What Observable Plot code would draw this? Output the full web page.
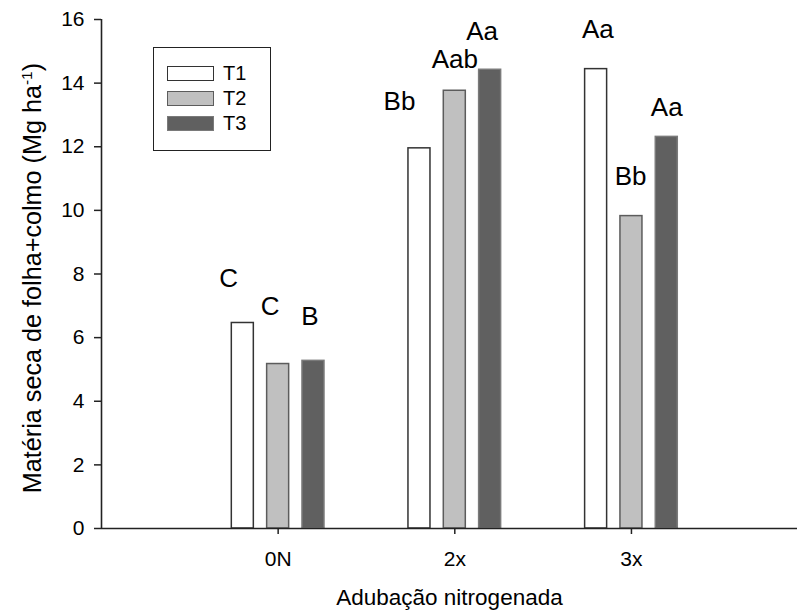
<!DOCTYPE html>
<html>
<head>
<meta charset="utf-8">
<script src="https://cdn.jsdelivr.net/npm/d3@7"></script>
<script src="https://cdn.jsdelivr.net/npm/@observablehq/plot@0.6"></script>
<style>
  html, body { margin: 0; padding: 0; background: #fff; }
  #wrap { position: relative; width: 797px; height: 615px; font-family: "Liberation Sans", Arial, sans-serif; }
  #legend { position: absolute; box-sizing: border-box; border: 1.5px solid #222; background: #fff; }
  .sw { position: absolute; box-sizing: border-box; border-width: 1.5px; border-style: solid; }
  .lt { position: absolute; font-size: 20px; line-height: 20px; color: #000; }
</style>
</head>
<body>
<div id="wrap"></div>
<script>
// ---- data ----
const categories = ["0N", "2x", "3x"];
const series = ["T1", "T2", "T3"];
const valuesT1 = [6.46, 11.95, 14.44];
const valuesT2 = [5.17, 13.76, 9.82];
const valuesT3 = [5.27, 14.42, 12.31];
const lettersT1 = ["C", "Bb", "Aa"];
const lettersT2 = ["C", "Aab", "Bb"];
const lettersT3 = ["B", "Aa", "Aa"];
// where the letters sit, in axis units (height, and shift from the bar centre)
const letterYT1 = [7.59, 13.15, 15.41];
const letterYT2 = [6.71, 14.48, 10.79];
const letterYT3 = [6.39, 15.35, 12.96];
const letterShiftT1 = [-0.08, -0.113, 0.01];
const letterShiftT2 = [-0.045, 0, -0.005];
const letterShiftT3 = [-0.02, -0.045, 0];
const yTicks = [0, 2, 4, 6, 8, 10, 12, 14, 16];
const fills = ["#ffffff", "#c0c0c0", "#606060"];
const strokes = ["#333333", "#5c5c5c", "#7a7a7a"];

const values = [valuesT1, valuesT2, valuesT3];
const letters = [lettersT1, lettersT2, lettersT3];
const letterYs = [letterYT1, letterYT2, letterYT3];
const letterShifts = [letterShiftT1, letterShiftT2, letterShiftT3];

const rows = categories.flatMap((c, i) => series.map((s, j) => ({
  category: c, ci: i + 1, series: s, sj: j,
  value: values[j][i], letter: letters[j][i],
  ly: letterYs[j][i], lshift: letterShifts[j][i]
})));

const groupOffset = 0.2;   // spacing between bars within a group (x units)
const halfBar = 0.0623;    // half bar width (x units)
const center = d => d.ci + (d.sj - 1) * groupOffset;

const font = "Liberation Sans, Arial, sans-serif";
const ink = "#222";

const plot = Plot.plot({
  width: 797,
  height: 615,
  marginLeft: 101,
  marginRight: 0,
  marginTop: 19,
  marginBottom: 87,
  style: { fontFamily: font, background: "#fff", overflow: "visible", color: "#000" },
  x: { type: "linear", domain: [0, 3.94] },
  y: { domain: [0, 16] },
  marks: [
    ...series.map((s, j) => Plot.rectY(rows.filter(d => d.sj === j), {
      x1: d => center(d) - halfBar,
      x2: d => center(d) + halfBar,
      y1: 0,
      y2: "value",
      fill: fills[j],
      stroke: strokes[j],
      strokeWidth: 1.5
    })),
    Plot.text(rows, {
      x: d => center(d) + d.lshift, y: "ly", text: "letter",
      lineAnchor: "bottom", textAnchor: "middle",
      fontSize: 26, fill: "#000"
    }),
    Plot.ruleX([0], { stroke: ink, strokeWidth: 1.6 }),
    Plot.ruleY([0], { stroke: ink, strokeWidth: 1.6 }),
    Plot.axisY({
      ticks: yTicks, tickSize: 7, tickPadding: 10, fontSize: 21,
      stroke: ink, strokeWidth: 1.5, fill: "#000", label: null
    }),
    Plot.axisX({
      ticks: categories.map((c, i) => i + 1),
      tickFormat: v => categories[v - 1],
      tickSize: 6, tickPadding: 17, fontSize: 21,
      stroke: ink, strokeWidth: 1.5, fill: "#000", label: null
    })
  ]
});

const wrap = document.getElementById("wrap");
wrap.appendChild(plot);

// axis titles
const svg = d3.select(plot);
const yt = svg.append("text")
  .attr("transform", "translate(41,278) rotate(-90)")
  .attr("text-anchor", "middle")
  .attr("font-family", font)
  .attr("font-size", 25.2)
  .attr("fill", "#000");
yt.append("tspan").text("Matéria seca de folha+colmo (Mg ha");
yt.append("tspan").attr("font-size", 15.5).attr("dy", -9.5).text("-1");
yt.append("tspan").attr("dy", 9.5).text(")");

svg.append("text")
  .attr("x", 449.5).attr("y", 605)
  .attr("text-anchor", "middle")
  .attr("font-family", font)
  .attr("font-size", 22.5)
  .attr("fill", "#000")
  .text("Adubação nitrogenada");

// legend (inside plot area)
const legend = document.createElement("div");
legend.id = "legend";
Object.assign(legend.style, { left: "153px", top: "47px", width: "118px", height: "104px" });
series.forEach((s, j) => {
  const sw = document.createElement("div");
  sw.className = "sw";
  Object.assign(sw.style, {
    left: "13px", top: (18 + j * 25) + "px", width: "47px", height: "15px",
    background: fills[j], borderColor: strokes[j]
  });
  legend.appendChild(sw);
  const lt = document.createElement("div");
  lt.className = "lt";
  lt.textContent = s;
  Object.assign(lt.style, { left: "69px", top: (15 + j * 25) + "px" });
  legend.appendChild(lt);
});
wrap.appendChild(legend);
</script>
</body>
</html>
